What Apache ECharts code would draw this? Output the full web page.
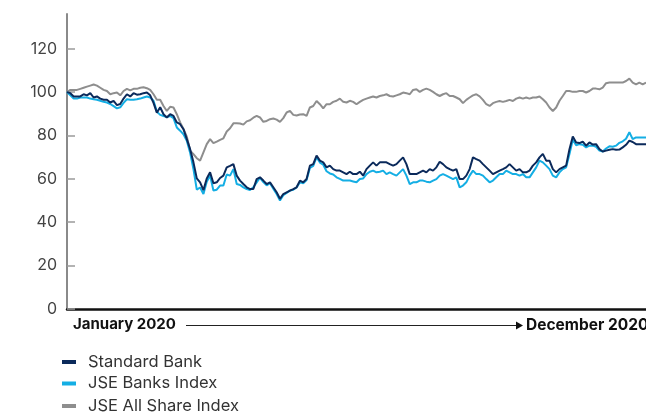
<!DOCTYPE html>
<html>
<head>
<meta charset="utf-8">
<script src="https://cdn.jsdelivr.net/npm/echarts@6/dist/echarts.min.js"></script>
<style>
html,body{margin:0;padding:0;background:#fff;}
#chart{width:646px;height:413px;}
</style>
</head>
<body>
<div id="chart"></div>
<script>
// Standard Bank (rebased to 100)
const standardBank = [
100,99.5,98,98,98,99,98.5,99.5,97.5,98,97,96.5,96.5,95.2,96,94,94.5,97,99,98,99.5,98.8,99,99.5,99.8,98.5,95,90.5,93,
89.8,88.3,89.8,89,86,85.2,82.9,78.3,73.7,67.6,60.2,58.4,54.8,60.2,63,58,58.4,60.4,61.5,65.3,66,66.8,61.5,59.2,57.6,56.1,55.3,55.3,59.9,
60.7,59.2,57.6,58.4,56.1,53.8,50.8,53,53.8,54.6,55.3,56.1,59.2,58.4,59.9,66.1,66.8,70.7,68.4,67.6,65.3,66.1,64.5,63.8,63.8,63,62.2,63.3,62.2,
62.2,63.3,61.5,64.5,66.1,67.6,66.1,67.6,67.6,67.6,66.8,66.1,66.8,68.4,69.9,66.8,62.2,62.2,62.2,63,63.8,63,64.5,63.8,65.3,67.9,66.8,65.3,64.5,
63.8,64.5,59.9,59.9,61.5,64.5,69.9,69.1,68.4,66.8,65.3,63.8,62.2,63,63.8,64.5,65.3,66.8,65.3,63.8,64.5,63,63,63.8,66.1,67.6,69.9,71.5,68.4,
68.4,64.5,63,64.5,65.3,66.1,73.7,79.5,76.8,76.5,77.2,75.3,76.8,75.8,76,73.7,72.6,73,73.4,73.7,73.4,73.5,74.5,75.7,77.6,77,76,76,76,76
];
// JSE Banks Index
const jseBanks = [
100,98.5,97,97,97.5,97.5,97.5,97,96.7,96.5,96,95.5,95.2,94.5,93.5,92.5,93,95,96.7,96.5,96.5,96.7,97,97.5,98,97.5,96,91,89.5,
89,88.5,89,88,83.7,82.2,80.5,77.6,72,64.5,55,56,53,58.7,61.5,54.6,55,56.9,56.9,62,61.5,64.5,57.6,57.2,56.1,55.3,54.9,56.1,58.4,
60.5,58.5,57,58,55.5,53,50,52.5,53.5,54.6,55,56,58.5,58,59.5,65,66,70,67.5,66.5,63.5,62.5,62,60.7,60,59.2,59.2,59.2,58.8,
58.4,59.9,60.2,62.2,63.3,63.8,63,63.3,63.8,62.2,63,62.2,61.5,63,64.5,61.5,57.6,58.4,58.4,59.2,59.2,58.7,58.4,59.2,59.9,61.5,62.2,61.5,60.7,
59.9,60.7,56.1,56.9,58.4,61.5,63.8,62.2,62.2,61.5,59.9,58.4,59.2,60.7,62.2,62.2,63.8,63,62.2,62.2,61.5,62.2,60.7,60.7,63,65.3,68.4,67.6,66.1,
64.5,61.5,60.7,63,64.5,65.3,71.4,78,75.5,76,75.7,74.5,75.3,75.3,74.8,73,72.6,74,75,74.8,75.3,76.6,77.3,78.5,81.5,78.3,79.1,79.1,79.1,79.1
];
// JSE All Share Index
const jseAllShare = [
100,101,101,101,101.5,102,102.5,103,103.5,103,102,101,100.5,99,99.5,99.8,98.5,100.5,101.5,100.8,101.5,101.5,102,102.2,101.8,101,99,96.5,96.5,
93.6,91.3,93.2,92.9,89.8,86,83,79.5,73,71.4,69.5,68.4,72.2,76,78.3,76.5,77.2,78,78.7,81.8,83.3,85.6,85.6,85.5,85,86.5,87,88.2,89,
88.3,86.3,86.7,87.5,87.8,87.3,86.3,88,90.6,91.3,89.5,89.2,89.7,89.8,89,92.9,93.6,95.9,94.4,92.5,94.4,94.4,95.5,96,97,95.5,95.2,96,95.5,
94.4,95.5,96.4,97,97.5,98,97.5,98.2,98.5,99,98.2,98,98.5,99,99.8,99.5,99,101,101.3,100.1,101,101.6,101,100.1,99,98.2,99,99.5,98.2,
98.2,97.5,96.7,94.9,96.4,97.5,98.5,99,98,96.4,94.4,93.6,94.9,95.5,95.9,95.5,95.9,96.4,95.9,97,97.5,97,97.5,97,97.5,97.5,98,96.7,95.2,
92.9,91.3,92.9,96,98.2,100.5,100.5,100.1,100.1,100.5,100.5,99.8,100.5,101.6,101.6,101.3,102.1,104.1,104.4,104.4,104.4,104.4,104.4,105.1,106.2,104.4,103.6,104.4,103.6,104.4
];
const seriesNames = ['Standard Bank', 'JSE Banks Index', 'JSE All Share Index'];
const yTicks = [0, 20, 40, 60, 80, 100, 120];
const startLabel = 'January 2020';
const endLabel = 'December 2020';
const samples = standardBank.map((_, i) => String(i));

const FONT = 'Inter';
const legendTops = [353, 374.5, 397];
const legendBase = {
  orient: 'vertical',
  left: 62,
  padding: 0,
  icon: 'rect',
  itemWidth: 14,
  itemHeight: 4,
  textStyle: {color: '#333', fontSize: 16.5, fontFamily: FONT, lineHeight: 18, padding: [0, 0, 0, 7]}
};
const chart = echarts.init(document.getElementById('chart'), null, {renderer: 'canvas'});
chart.setOption({
  animation: false,
  backgroundColor: '#ffffff',
  textStyle: {fontFamily: FONT},
  grid: {left: 67, right: 0, top: 14, bottom: 104, containLabel: false},
  xAxis: {
    type: 'category',
    data: samples,
    boundaryGap: false,
    axisLine: {show: true, lineStyle: {color: '#111', width: 2.5}},
    axisTick: {show: false},
    axisLabel: {show: false},
    splitLine: {show: false}
  },
  yAxis: {
    type: 'value',
    min: 0,
    max: 136,
    interval: 20,
    axisLine: {show: true, lineStyle: {color: '#8a8a8a', width: 2}},
    axisTick: {show: true, inside: true, length: 8, lineStyle: {color: '#9a9a9a', width: 1.5}, customValues: yTicks},
    axisLabel: {color: '#444', fontSize: 16, fontFamily: FONT, margin: 10, customValues: yTicks},
    splitLine: {show: false}
  },
  legend: seriesNames.map((n, i) => Object.assign({}, legendBase, {top: legendTops[i], data: [n]})),
  series: [
    {name: seriesNames[2], type: 'line', data: jseAllShare, showSymbol: false, color: '#8e8e8e', lineStyle: {width: 2, color: '#8e8e8e'}},
    {name: seriesNames[1], type: 'line', data: jseBanks, showSymbol: false, color: '#14aee4', lineStyle: {width: 2, color: '#14aee4'}},
    {name: seriesNames[0], type: 'line', data: standardBank, showSymbol: false, color: '#0b2a5b', lineStyle: {width: 2, color: '#0b2a5b'}}
  ],
  graphic: [
    {type: 'text', left: 73, top: 317, style: {text: startLabel, font: 'bold 15px ' + FONT, fill: '#111'}},
    {type: 'line', shape: {x1: 186, y1: 325.5, x2: 519, y2: 325.5}, style: {stroke: '#222', lineWidth: 1}},
    {type: 'polygon', shape: {points: [[516, 321.5], [523, 325.5], [516, 329.5]]}, style: {fill: '#111'}},
    {type: 'text', left: 526, top: 317, style: {text: endLabel, font: 'bold 15.5px ' + FONT, fill: '#111'}}
  ]
});
</script>
</body>
</html>
